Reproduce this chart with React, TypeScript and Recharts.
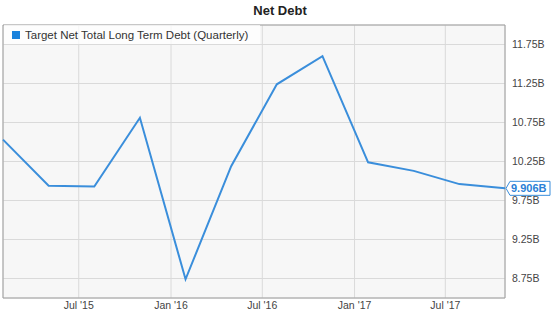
import {
  LineChart,
  Line,
  XAxis,
  YAxis,
  CartesianGrid,
  ReferenceArea,
  LabelList,
} from 'recharts';

// Quarter-end dates and net debt (billions USD)
const quarterEnds = [
  '2015-01-31',
  '2015-05-02',
  '2015-08-01',
  '2015-10-31',
  '2016-01-30',
  '2016-04-30',
  '2016-07-30',
  '2016-10-29',
  '2017-01-28',
  '2017-04-29',
  '2017-07-29',
  '2017-10-28',
];
const netDebtB = [10.53, 9.94, 9.93, 10.81, 8.74, 10.19, 11.24, 11.6, 10.24, 10.13, 9.96, 9.906];

const xTickDates = ['2015-07-01', '2016-01-01', '2016-07-01', '2017-01-01', '2017-07-01'];
const yTicks = [8.75, 9.25, 9.75, 10.25, 10.75, 11.25, 11.75];
const yDomain: [number, number] = [8.5, 12];

const seriesName = 'Target Net Total Long Term Debt (Quarterly)';
const lineColor = '#3a8edb';
const font = '"Liberation Sans", Arial, sans-serif';

const toTime = (d: string) => new Date(d + 'T00:00:00Z').getTime();
const data = quarterEnds.map((d, i) => ({ t: toTime(d), value: netDebtB[i] }));
const xTicks = xTickDates.map(toTime);
const xDomain: [number, number] = [data[0].t, data[data.length - 1].t];

const months = ['Jan', 'Feb', 'Mar', 'Apr', 'May', 'Jun', 'Jul', 'Aug', 'Sep', 'Oct', 'Nov', 'Dec'];
const formatDate = (t: number) => {
  const d = new Date(t);
  return `${months[d.getUTCMonth()]} '${String(d.getUTCFullYear()).slice(2)}`;
};

// Value tag pinned to the last point, pointing left at the line
function LastValueTag(props: any) {
  const { x, y, index, value } = props;
  if (index !== data.length - 1) return null;
  const path = `M${x + 1},${y} L${x + 5},${y - 7} L${x + 45},${y - 7} L${x + 45},${y + 7} L${x + 5},${y + 7} Z`;
  return (
    <g>
      <path d={path} fill="#fff" stroke={lineColor} strokeWidth={1} />
      <text x={x + 6} y={y + 4} fontSize={11} fontWeight="bold" fill="#2a7fd6" fontFamily={font}>
        {`${value.toFixed(3)}B`}
      </text>
    </g>
  );
}

export default function App() {
  return (
    <div style={{ position: 'absolute', left: 0, top: 0, width: 554, height: 314, background: '#fff', fontFamily: font }}>
      <div style={{ position: 'absolute', top: 3, left: 0, width: 560, textAlign: 'center', fontSize: 13, fontWeight: 'bold', color: '#222' }}>
        Net Debt
      </div>
      <LineChart width={554} height={314} data={data} margin={{ top: 25, right: 0, left: 3, bottom: 0 }}>
        <CartesianGrid stroke="#dadada" fill="#f7f7f7" />
        <XAxis
          dataKey="t"
          type="number"
          domain={xDomain}
          ticks={xTicks}
          tickFormatter={formatDate}
          axisLine={false}
          tickLine={false}
          tickSize={0}
          tickMargin={4}
          height={16}
          tick={{ fontSize: 10.5, fill: '#444', fontFamily: font }}
        />
        <YAxis
          orientation="right"
          type="number"
          domain={yDomain}
          ticks={yTicks}
          tickFormatter={(v: number) => `${v.toFixed(2)}B`}
          axisLine={false}
          tickLine={false}
          tickSize={0}
          tickMargin={7}
          width={49}
          tick={{ fontSize: 10.5, fill: '#444', fontFamily: font }}
        />
        {/* plot border */}
        <ReferenceArea
          x1={xDomain[0]}
          x2={xDomain[1]}
          y1={yDomain[0]}
          y2={yDomain[1]}
          fill="none"
          stroke="#a0a0a0"
          strokeWidth={1}
        />
        <Line
          type="linear"
          dataKey="value"
          stroke={lineColor}
          strokeWidth={2}
          dot={false}
          isAnimationActive={false}
        >
          <LabelList dataKey="value" content={<LastValueTag />} />
        </Line>
      </LineChart>
      {/* legend box in the top-left corner of the plot */}
      <div
        style={{
          position: 'absolute',
          top: 25,
          left: 4,
          height: 19,
          paddingRight: 12,
          whiteSpace: 'nowrap',
          background: 'rgba(255,255,255,0.75)',
          display: 'flex',
          alignItems: 'center',
          fontSize: 11.5,
          color: '#333',
        }}
      >
        <span style={{ display: 'inline-block', width: 8, height: 8, background: '#1a82dc', margin: '0 5px 0 8px' }} />
        {seriesName}
      </div>
    </div>
  );
}
